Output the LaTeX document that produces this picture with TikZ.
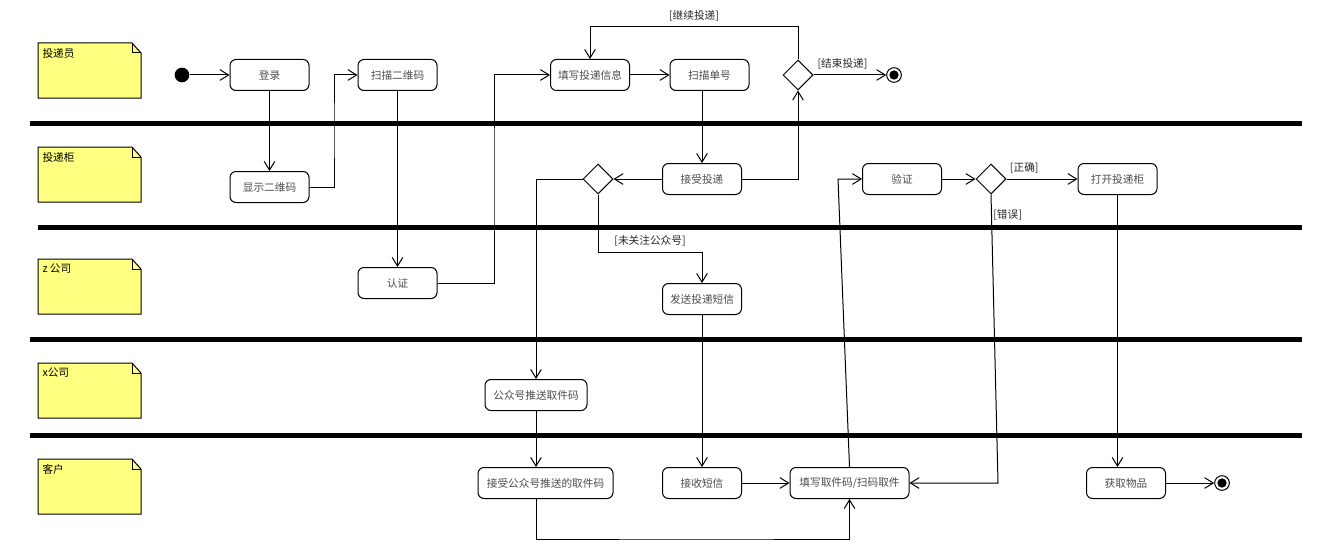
\documentclass[tikz,border=0pt]{standalone}
\usepackage{fontspec}
\setmainfont{Noto Sans CJK SC}
\usetikzlibrary{arrows.meta,shapes.geometric}
\definecolor{notefill}{HTML}{FFFF80}
\begin{document}
\begin{tikzpicture}[x=0.75pt,y=-0.75pt,line width=0.75pt,
    >={Straight Barb[length=6.5pt,width=8pt]},
    every node/.style={font=\fontsize{8}{10}\selectfont},
    act/.style={draw,rounded corners=4.5pt,minimum width=59.25pt,minimum height=23.25pt,inner sep=1pt,text=black!70},
    dec/.style={draw,diamond,aspect=1,minimum width=22.5pt,minimum height=22.5pt,inner sep=0pt},
    final/.style={draw,circle,minimum size=11pt,inner sep=0pt,path picture={\fill (path picture bounding box.center) circle (3.5pt);}},
    guard/.style={text=black!85,inner sep=1pt},
    lane/.style={line width=3.75pt},
    note/.style={draw,fill=notefill}]
    \useasboundingbox (0,0) rectangle (1338,560);
    \draw[note] (38,43) -- (132,43) -- (141,53) -- (141,98) -- (38,98) -- cycle;
    \draw (132,43) -- (132,53) -- (141,53);
    \node[anchor=west,inner sep=0pt] (lane1) at (42,53) {投递员};
    \draw[note] (38,147) -- (132,147) -- (141,157) -- (141,202) -- (38,202) -- cycle;
    \draw (132,147) -- (132,157) -- (141,157);
    \node[anchor=west,inner sep=0pt] (lane2) at (42,157) {投递柜};
    \draw[note] (38,259) -- (132,259) -- (141,269) -- (141,314) -- (38,314) -- cycle;
    \draw (132,259) -- (132,269) -- (141,269);
    \node[anchor=west,inner sep=0pt] (lane3) at (42,269) {z 公司};
    \draw[note] (38,363) -- (132,363) -- (141,373) -- (141,418) -- (38,418) -- cycle;
    \draw (132,363) -- (132,373) -- (141,373);
    \node[anchor=west,inner sep=0pt] (lane4) at (42,373) {x公司};
    \draw[note] (38,459) -- (132,459) -- (141,469) -- (141,514) -- (38,514) -- cycle;
    \draw (132,459) -- (132,469) -- (141,469);
    \node[anchor=west,inner sep=0pt] (lane5) at (42,469) {客户};
    \draw[lane] (30,123) -- (1302,123);
    \draw[lane] (38,227) -- (1302,227);
    \draw[lane] (30,339) -- (1302,339);
    \draw[lane] (30,435) -- (1302,435);
    \node[circle,fill,inner sep=0pt,minimum size=11pt] (start) at (182,75) {};
    \node[act] (login) at (269.5,75) {登录};
    \node[act] (showqr) at (269.5,187) {显示二维码};
    \node[act] (scanqr) at (397.5,75) {扫描二维码};
    \node[act] (auth) at (397.5,283) {认证};
    \node[act] (fillinfo) at (590,75) {填写投递信息};
    \node[act] (scanno) at (709.5,75) {扫描单号};
    \node[dec] (cont) at (798,75) {};
    \node[final] (end1) at (894,75) {};
    \node[act] (accept) at (702,179) {接受投递};
    \node[dec] (follow) at (598,179) {};
    \node[act] (verify) at (902,179) {验证};
    \node[dec] (check) at (991,179) {};
    \node[act] (openbox) at (1117.5,179) {打开投递柜};
    \node[act] (sendsms) at (702,299) {发送投递短信};
    \node[act,minimum width=76.5pt] (pushcode) at (536,395) {公众号推送取件码};
    \node[act,minimum width=101.25pt] (recvpush) at (545.5,483) {接受公众号推送的取件码};
    \node[act] (recvsms) at (702,483) {接收短信};
    \node[act,minimum width=89.25pt] (fillcode) at (849.5,483) {填写取件码/扫码取件};
    \node[act] (getitem) at (1126,483) {获取物品};
    \node[final] (end2) at (1222,483) {};
    \coordinate (b1) at (334,130);
    \coordinate (b2) at (494,180);
    \coordinate (b3) at (798,27);
    \coordinate (b4) at (598,252);
    \coordinate (b5) at (700,539);
    \coordinate (b6) at (838,179);
    \coordinate (b7) at (998,483);
    \draw[->] (start) -- (login);
    \draw[->] (login) -- (showqr);
    \draw[->] (showqr.east) -| (b1) |- (scanqr.west);
    \draw[->] (scanqr) -- (auth);
    \draw[->] (auth.east) -| (b2) |- (fillinfo.west);
    \draw[->] (fillinfo) -- (scanno);
    \draw[->] (scanno.south -| accept.north) -- (accept.north);
    \draw[->] (accept.east) -| (cont.south);
    \draw[->] (cont.north) -- (b3) -| node[guard,pos=0.25,above=3pt] {[继续投递]} (fillinfo.north);
    \draw[->] (cont.east) -- node[guard,pos=0.4,above=3pt] {[结束投递]} (end1);
    \draw[->] (accept.west) -- (follow.east);
    \draw[->] (follow.west) -| (pushcode.north);
    \draw[->] (follow.south) -- (b4) -| node[guard,pos=0.25,above=3pt] {[未关注公众号]} (sendsms.north);
    \draw[->] (sendsms) -- (recvsms);
    \draw[->] (pushcode.south) -- (pushcode.south |- recvpush.north);
    \draw[->] (recvpush.south -| pushcode.south) |- (b5) -| (fillcode.south);
    \draw[->] (recvsms) -- (fillcode);
    \draw[->] (fillcode.north) -- (b6) -- (verify.west);
    \draw[->] (verify) -- (check);
    \draw[->] (check) -- node[guard,pos=0.25,above=3pt] {[正确]} (openbox);
    \draw[->] (check.south) -- node[guard,pos=0.07,right] {[错误]} (b7) -- (fillcode.east);
    \draw[->] (openbox.south) -- (openbox.south |- getitem.north);
    \draw[->] (getitem) -- (end2);
\end{tikzpicture}
\end{document}
